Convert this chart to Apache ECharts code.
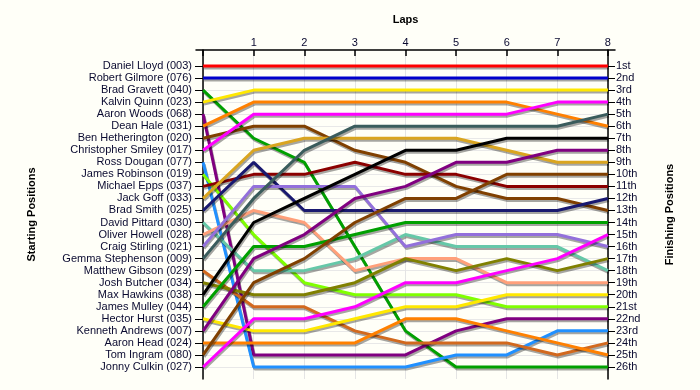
<!DOCTYPE html>
<html>
<head>
<meta charset="utf-8">
<script src="https://cdn.jsdelivr.net/npm/echarts@6/dist/echarts.min.js"></script>
<style>
html,body{margin:0;padding:0;background:#FFFFF8;}
#chart{width:700px;height:390px;}
</style>
</head>
<body>
<div id="chart"></div>
<script>
const laps = [0, 1, 2, 3, 4, 5, 6, 7, 8];
const lapLabels = ['', '1', '2', '3', '4', '5', '6', '7', '8'];
const drivers = [
  'Daniel Lloyd (003)', 'Robert Gilmore (076)', 'Brad Gravett (040)', 'Kalvin Quinn (023)',
  'Aaron Woods (068)', 'Dean Hale (031)', 'Ben Hetherington (020)', 'Christopher Smiley (017)',
  'Ross Dougan (077)', 'James Robinson (019)', 'Michael Epps (037)', 'Jack Goff (033)',
  'Brad Smith (025)', 'David Pittard (030)', 'Oliver Howell (028)', 'Craig Stirling (021)',
  'Gemma Stephenson (009)', 'Matthew Gibson (029)', 'Josh Butcher (034)', 'Max Hawkins (038)',
  'James Mulley (044)', 'Hector Hurst (035)', 'Kenneth Andrews (007)', 'Aaron Head (024)',
  'Tom Ingram (080)', 'Jonny Culkin (027)'
];
const finishLabels = ['1st','2nd','3rd','4th','5th','6th','7th','8th','9th','10th','11th','12th','13th',
  '14th','15th','16th','17th','18th','19th','20th','21st','22nd','23rd','24th','25th','26th'];
const driverColors = [
  '#FF0000', '#0000CC', '#00A000', '#FFE800', '#800080', '#FF8000', '#804000', '#FF00FF',
  '#2090FF', '#80FF00', '#8B0000', '#DAA520', '#191970', '#66C8A8', '#FFA07A', '#9370DB',
  '#3A5C5C', '#D2691E', '#808000', '#000000', '#00A000', '#FFE800', '#800080', '#FF8000',
  '#804000', '#FF00FF'
];
// positions per lap, indexed by driver
const lap0Pos = [1,2,3,4,5,6,7,8,9,10,11,12,13,14,15,16,17,18,19,20,21,22,23,24,25,26];
const lap1Pos = [1,2,7,3,25,4,6,5,26,15,10,8,9,18,13,11,12,21,20,14,16,23,17,24,19,22];
const lap2Pos = [1,2,9,3,25,4,6,5,26,19,10,7,13,18,14,11,8,21,20,12,16,23,15,24,17,22];
const lap3Pos = [1,2,16,3,25,4,8,5,26,20,9,7,13,17,18,11,6,23,19,10,15,22,12,24,14,21];
const lap4Pos = [1,2,23,3,25,4,9,5,26,20,10,7,13,15,17,16,6,24,17,8,14,21,11,22,12,19];
const lap5Pos = [1,2,26,3,23,4,11,5,25,20,10,7,13,16,17,15,6,24,18,8,14,21,9,22,12,19];
const lap6Pos = [1,2,26,3,22,4,12,5,25,21,11,8,13,16,19,15,6,24,17,7,14,20,9,23,10,18];
const lap7Pos = [1,2,26,3,22,5,12,4,23,21,11,9,13,16,19,15,6,25,18,7,14,20,8,24,10,17];
const lap8Pos = [1,2,26,3,22,6,13,4,23,21,11,9,12,18,19,16,5,24,17,7,14,20,8,25,10,15];

const lapTable = [lap0Pos, lap1Pos, lap2Pos, lap3Pos, lap4Pos, lap5Pos, lap6Pos, lap7Pos, lap8Pos];
const rowValues = drivers.map((d, i) => i + 1);
const font = 'Liberation Sans, Arial, sans-serif';
const textColor = '#0a0a30';

const series = drivers.map((name, i) => ({
  name: name,
  type: 'line',
  xAxisIndex: 0,
  yAxisIndex: 0,
  symbol: 'none',
  silent: true,
  data: laps.map((lap, k) => [lap, lapTable[k][i]]),
  lineStyle: {
    color: driverColors[i],
    width: 3,
    shadowColor: 'rgba(0,0,0,0.35)',
    shadowOffsetX: 1,
    shadowOffsetY: 2,
    shadowBlur: 0
  },
  itemStyle: { color: driverColors[i] }
}));

const chart = echarts.init(document.getElementById('chart'), null, { renderer: 'canvas' });
chart.setOption({
  animation: false,
  backgroundColor: '#FFFFF8',
  grid: { left: 196, right: 85, top: 50, bottom: 11, containLabel: false },
  xAxis: {
    type: 'value',
    position: 'top',
    min: -0.14,
    max: 8.14,
    name: 'Laps',
    nameLocation: 'middle',
    nameGap: 25,
    nameTextStyle: { fontFamily: font, fontSize: 11, fontWeight: 'bold', color: '#000' },
    axisLine: { onZero: false, lineStyle: { color: '#000', width: 1.5 } },
    axisTick: { show: true, inside: true, length: 6, customValues: laps, lineStyle: { color: '#000', width: 1.5 } },
    axisLabel: {
      customValues: laps,
      margin: 2,
      fontFamily: font, fontSize: 11, color: textColor,
      formatter: v => lapLabels[Math.round(v)] || ''
    },
    splitLine: { show: true, lineStyle: { color: '#E4E4E4', width: 1 } }
  },
  yAxis: [
    {
      type: 'value',
      position: 'left',
      inverse: true,
      min: -0.33,
      max: 27,
      offset: -7,
      name: 'Starting Positions',
      nameLocation: 'middle',
      nameGap: 166,
      nameTextStyle: { fontFamily: font, fontSize: 11, fontWeight: 'bold', color: '#000' },
      axisLine: { show: true, onZero: false, lineStyle: { color: '#000', width: 1.5 } },
      axisTick: { show: true, length: 8, customValues: rowValues, lineStyle: { color: '#000', width: 1 } },
      axisLabel: {
        customValues: rowValues,
        margin: 11,
        fontFamily: font, fontSize: 11, color: textColor,
        formatter: v => drivers[Math.round(v) - 1] || ''
      },
      splitLine: { show: true, lineStyle: { color: '#E8E8E8', width: 1 } }
    },
    {
      type: 'value',
      position: 'right',
      inverse: true,
      min: -0.33,
      max: 27,
      offset: -7,
      name: 'Finishing Positions',
      nameLocation: 'middle',
      nameGap: 56,
      nameTextStyle: { fontFamily: font, fontSize: 11, fontWeight: 'bold', color: '#000' },
      axisLine: { show: true, onZero: false, lineStyle: { color: '#000', width: 1.5 } },
      axisTick: { show: true, length: 7, customValues: rowValues, lineStyle: { color: '#000', width: 1 } },
      axisLabel: {
        customValues: rowValues,
        margin: 8,
        fontFamily: font, fontSize: 11, color: textColor,
        formatter: v => finishLabels[Math.round(v) - 1] || ''
      },
      splitLine: { show: false }
    }
  ],
  series: series
});
</script>
</body>
</html>
